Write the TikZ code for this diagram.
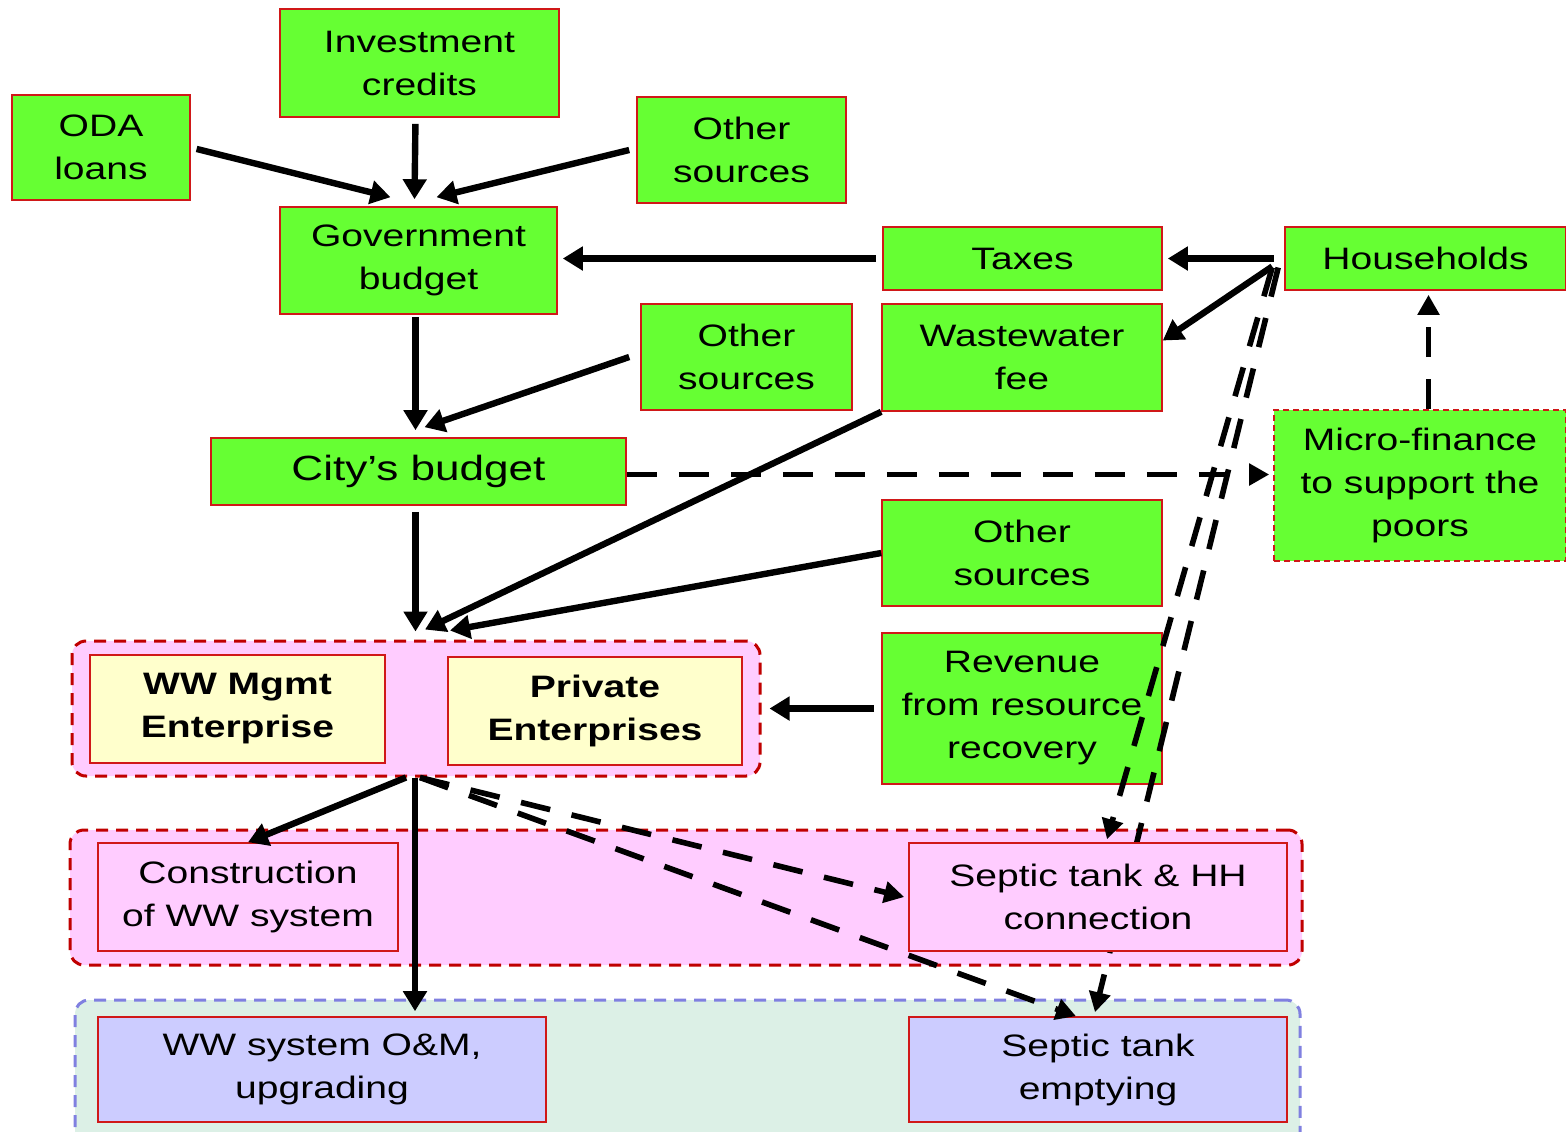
\documentclass[tikz,border=0pt]{standalone}
\usepackage{fontspec}
\setmainfont{Liberation Sans}[FakeStretch=1.26]
\usetikzlibrary{arrows.meta,calc}
\definecolor{boxgreen}{HTML}{66FF33}
\definecolor{boxred}{HTML}{D01818}
\definecolor{grppink}{HTML}{FFCCFF}
\definecolor{grpred}{HTML}{C00000}
\definecolor{boxyellow}{HTML}{FFFFCC}
\definecolor{boxlav}{HTML}{CCCCFF}
\definecolor{grpmint}{HTML}{DCF0E6}
\definecolor{grpblue}{HTML}{8080E0}
\pgfdeclarelayer{background}
\pgfdeclarelayer{front}
\pgfsetlayers{background,main,front}
\begin{document}
\begin{tikzpicture}[x=0.5pt,y=-0.5pt,
  box/.style={draw=boxred, line width=0.8pt, fill=boxgreen, align=center, inner sep=0pt,
    font=\fontsize{15.5}{21.5}\selectfont},
  grp/.style={rounded corners=7pt, line width=1.5pt, dash pattern=on 6pt off 4pt, inner sep=0pt},
  arr/.style={line width=3.2pt, -{Triangle[length=10pt,width=11.5pt]}},
  darr/.style={line width=2.8pt, -{Triangle[length=10pt,width=10.5pt]}, dash pattern=on 15pt off 11pt},
]
\useasboundingbox (0,0) rectangle (1566,1131);
\clip (0,0) rectangle (1566,1131);

% groups
\begin{pgfonlayer}{background}
\node[grp, draw=grpred, fill=grppink, minimum width=344pt, minimum height=67.5pt] (g1) at (416,708.5) {};
\node[grp, draw=grpred, fill=grppink, minimum width=616pt, minimum height=67.5pt] (g2) at (686,897.5) {};
\node[grp, draw=grpblue, fill=grpmint, minimum width=612.5pt, minimum height=75pt] (g3) at (687.5,1075) {};
\end{pgfonlayer}

% boxes
\node[box, minimum width=139.5pt, minimum height=54pt] (inv) at (419.5,63) {Investment\\credits};
\node[box, minimum width=89pt, minimum height=52.5pt] (oda) at (101,147.5) {ODA\\loans};
\node[box, minimum width=104.5pt, minimum height=53pt] (oth1) at (741.5,150) {Other\\sources};
\node[box, minimum width=138.5pt, minimum height=53.5pt] (gov) at (418.5,260.5) {Government\\budget};
\node[box, minimum width=139.5pt, minimum height=31.5pt] (taxes) at (1022.5,258.5) {Taxes};
\node[box, minimum width=140.5pt, minimum height=31.5pt] (hh) at (1425.5,258.5) {Households};
\node[box, minimum width=105.5pt, minimum height=53pt] (oth2) at (746.5,357) {Other\\sources};
\node[box, minimum width=140pt, minimum height=53.5pt] (wwfee) at (1022,357.5) {Wastewater\\fee};
\node[box, minimum width=207.5pt, minimum height=33.5pt, font=\fontsize{17.5}{21.5}\selectfont] (city) at (418.5,471.5) {City’s budget};
\node[box, dash pattern=on 3pt off 2pt, minimum width=146pt, minimum height=75.5pt] (mf) at (1420,485.5) {Micro-finance\\to support the\\poors};
\node[box, minimum width=140pt, minimum height=53pt] (oth3) at (1022,553) {Other\\sources};
\node[box, minimum width=140pt, minimum height=75.5pt] (rev) at (1022,708.5) {Revenue\\from resource\\recovery};
\node[box, fill=boxyellow, minimum width=147.5pt, minimum height=54pt, font=\fontsize{15.5}{21.5}\selectfont\bfseries] (wwm) at (237.5,709) {WW Mgmt\\Enterprise};
\node[box, fill=boxyellow, minimum width=147pt, minimum height=54pt, font=\fontsize{15.5}{21.5}\selectfont\bfseries] (pe) at (595,711) {Private\\Enterprises};
\node[box, fill=grppink, minimum width=150pt, minimum height=54pt] (cons) at (248,897) {Construction\\of WW system};
\begin{pgfonlayer}{front}
\node[box, fill=grppink, minimum width=189pt, minimum height=54pt] (sc) at (1098,897) {Septic tank \& HH\\connection};
\end{pgfonlayer}
\node[box, fill=boxlav, minimum width=224pt, minimum height=52.5pt] (om) at (322,1069.5) {WW system O\&M,\\upgrading};
\node[box, fill=boxlav, minimum width=189pt, minimum height=52.5pt] (emp) at (1098,1069.5) {Septic tank\\emptying};

% connectors
\draw[arr, shorten <=3pt] (oda.east) -- ([xshift=-14pt,yshift=4.5pt]gov.north);
\draw[arr, shorten <=3pt] ([xshift=-2pt]inv.south) -- ([xshift=-2pt,yshift=3.5pt]gov.north);
\draw[arr] ([xshift=-3.5pt]oth1.west) -- ([xshift=9pt,yshift=4.5pt]gov.north);
\draw[arr, shorten <=3pt, shorten >=2.5pt] (taxes.west) -- (taxes.west -| gov.east);
\draw[arr, shorten <=5pt, shorten >=2.5pt] (hh.west) -- (taxes.east);
\draw[arr] ([xshift=-6pt,yshift=-4pt]hh.west) -- ([yshift=8.5pt]wwfee.east);
\draw[arr, shorten <=1pt, shorten >=3.5pt] ([xshift=-1.5pt]gov.south) -- ([xshift=-1.5pt]city.north);
\draw[arr] ([xshift=-5.5pt]oth2.west) -- ([xshift=3pt,yshift=5pt]city.north);
\draw[arr, shorten <=3pt, shorten >=4pt] ([xshift=-1.5pt]city.south) -- ([xshift=-1.5pt]city.south |- g1.north);
\draw[arr] (wwfee.south west) -- ([xshift=4.5pt,yshift=5pt]g1.north);
\draw[arr] (oth3.west) -- ([xshift=17pt,yshift=4.5pt]g1.north);
\draw[arr, shorten <=3.5pt, shorten >=4pt] (rev.west) -- (g1.east);
\draw[darr, shorten >=2pt] ([yshift=-1.5pt]city.east) -- ([yshift=-1.5pt]city.east -| mf.west);
\draw[darr, shorten >=2pt] ([xshift=1.5pt]hh.south |- mf.north) -- ([xshift=1.5pt]hh.south);
\draw[arr, line width=2.6pt, shorten >=2.5pt] ([xshift=-0.5pt]g1.south) -- ([xshift=-0.5pt]g1.south |- om.north);
\draw[arr] ([xshift=-5pt]g1.south) -- (cons.north);
\draw[darr] ([xshift=2pt]g1.south) -- ([xshift=-2pt]sc.west);
\draw[darr] ([xshift=2pt]g1.south) -- ([xshift=-11pt]emp.north);
\draw[darr] ([xshift=-6pt,yshift=-4.5pt]hh.west) -- ([xshift=4.5pt,yshift=1.5pt]sc.north);
\draw[darr] ([xshift=-3pt,yshift=-4.5pt]hh.west) -- ([xshift=-1.5pt,yshift=2pt]emp.north);
\end{tikzpicture}
\end{document}
